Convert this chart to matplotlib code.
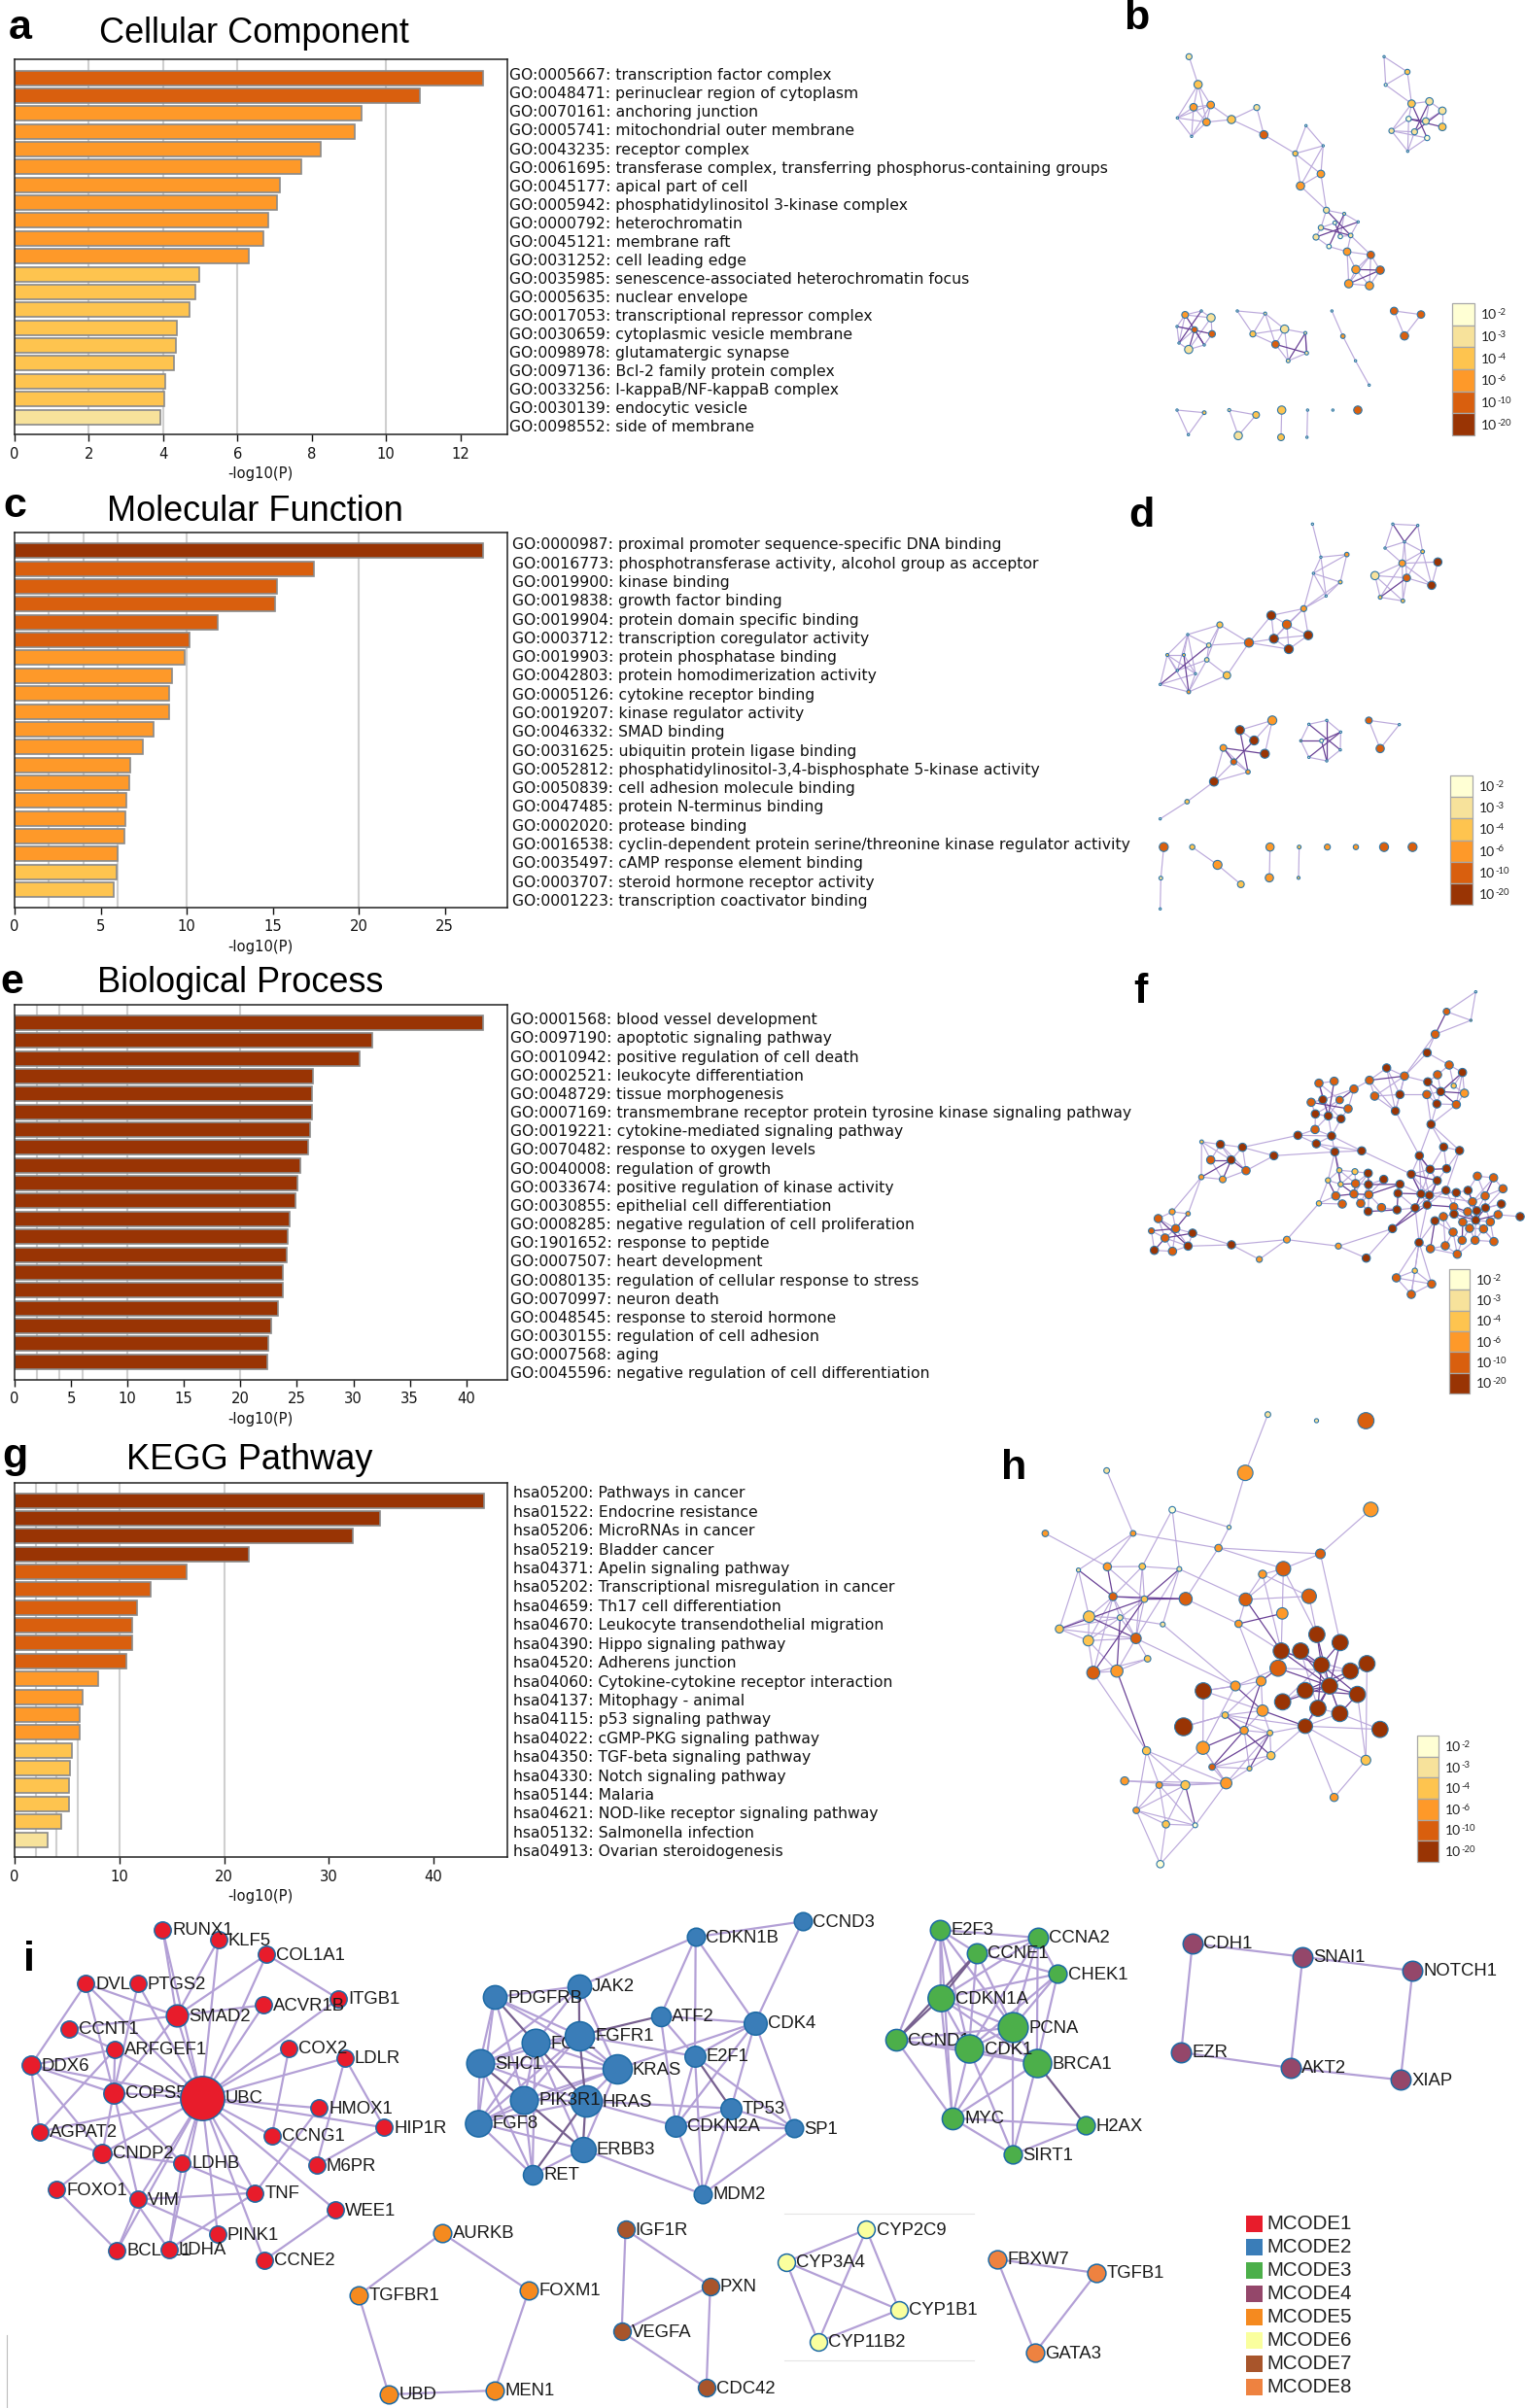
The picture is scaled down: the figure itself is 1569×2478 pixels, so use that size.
import matplotlib
matplotlib.use('Agg')
import matplotlib.pyplot as plt
from matplotlib.collections import LineCollection
from matplotlib.patches import Rectangle

W, H, DPI = 1569, 2478, 100
SANS = 'Liberation Sans'
LEVEL = {2: '#FFFFD4', 3: '#F7E29B', 4: '#FEC44F', 6: '#FE9929', 10: '#D95F0E', 20: '#993404'}
BAR_EDGE = '#8A8A8A'
NODE_EDGE = '#2F77A8'
EDGE_LIGHT = '#BBA9DB'
EDGE_DARK = '#6A4296'
GRID_VALUES = [2, 4, 6, 10, 20]

# ---------------------------- bar panels -----------------------------
cc_values = [12.62, 10.9, 9.33, 9.16, 8.23, 7.71, 7.15, 7.06, 6.83, 6.71, 6.31, 4.97, 4.86, 4.71, 4.36, 4.34, 4.29, 4.05, 4.04, 3.93]
cc_levels = [10, 10, 6, 6, 6, 6, 6, 6, 6, 6, 6, 4, 4, 4, 4, 4, 4, 4, 4, 3]
cc_labels = ['GO:0005667: transcription factor complex', 'GO:0048471: perinuclear region of cytoplasm',
             'GO:0070161: anchoring junction', 'GO:0005741: mitochondrial outer membrane', 'GO:0043235: receptor complex',
             'GO:0061695: transferase complex, transferring phosphorus-containing groups', 'GO:0045177: apical part of cell',
             'GO:0005942: phosphatidylinositol 3-kinase complex', 'GO:0000792: heterochromatin', 'GO:0045121: membrane raft',
             'GO:0031252: cell leading edge', 'GO:0035985: senescence-associated heterochromatin focus',
             'GO:0005635: nuclear envelope', 'GO:0017053: transcriptional repressor complex',
             'GO:0030659: cytoplasmic vesicle membrane', 'GO:0098978: glutamatergic synapse',
             'GO:0097136: Bcl-2 family protein complex', 'GO:0033256: I-kappaB/NF-kappaB complex',
             'GO:0030139: endocytic vesicle', 'GO:0098552: side of membrane']
cc_ticks = [0, 2, 4, 6, 8, 10, 12]

mf_values = [27.2, 17.4, 15.25, 15.15, 11.8, 10.15, 9.9, 9.17, 9.0, 8.95, 8.05, 7.45, 6.7, 6.65, 6.47, 6.45, 6.4, 6.0, 5.95, 5.75]
mf_levels = [20, 10, 10, 10, 10, 10, 6, 6, 6, 6, 6, 6, 6, 6, 6, 6, 6, 6, 4, 4]
mf_labels = ['GO:0000987: proximal promoter sequence-specific DNA binding', 'GO:0016773: phosphotransferase activity, alcohol group as acceptor',
             'GO:0019900: kinase binding', 'GO:0019838: growth factor binding', 'GO:0019904: protein domain specific binding',
             'GO:0003712: transcription coregulator activity', 'GO:0019903: protein phosphatase binding',
             'GO:0042803: protein homodimerization activity', 'GO:0005126: cytokine receptor binding',
             'GO:0019207: kinase regulator activity', 'GO:0046332: SMAD binding', 'GO:0031625: ubiquitin protein ligase binding',
             'GO:0052812: phosphatidylinositol-3,4-bisphosphate 5-kinase activity', 'GO:0050839: cell adhesion molecule binding',
             'GO:0047485: protein N-terminus binding', 'GO:0002020: protease binding',
             'GO:0016538: cyclin-dependent protein serine/threonine kinase regulator activity', 'GO:0035497: cAMP response element binding',
             'GO:0003707: steroid hormone receptor activity', 'GO:0001223: transcription coactivator binding']
mf_ticks = [0, 5, 10, 15, 20, 25]

bp_values = [41.5, 31.7, 30.6, 26.4, 26.35, 26.3, 26.2, 26.0, 25.3, 25.05, 24.85, 24.4, 24.15, 24.1, 23.8, 23.8, 23.35, 22.75, 22.45, 22.35]
bp_levels = [20] * 20
bp_labels = ['GO:0001568: blood vessel development', 'GO:0097190: apoptotic signaling pathway',
             'GO:0010942: positive regulation of cell death', 'GO:0002521: leukocyte differentiation', 'GO:0048729: tissue morphogenesis',
             'GO:0007169: transmembrane receptor protein tyrosine kinase signaling pathway', 'GO:0019221: cytokine-mediated signaling pathway',
             'GO:0070482: response to oxygen levels', 'GO:0040008: regulation of growth', 'GO:0033674: positive regulation of kinase activity',
             'GO:0030855: epithelial cell differentiation', 'GO:0008285: negative regulation of cell proliferation',
             'GO:1901652: response to peptide', 'GO:0007507: heart development', 'GO:0080135: regulation of cellular response to stress',
             'GO:0070997: neuron death', 'GO:0048545: response to steroid hormone', 'GO:0030155: regulation of cell adhesion',
             'GO:0007568: aging', 'GO:0045596: negative regulation of cell differentiation']
bp_ticks = [0, 5, 10, 15, 20, 25, 30, 35, 40]

kegg_values = [44.8, 34.9, 32.3, 22.4, 16.45, 12.95, 11.7, 11.25, 11.2, 10.65, 7.95, 6.45, 6.25, 6.2, 5.5, 5.3, 5.2, 5.2, 4.5, 3.15]
kegg_levels = [20, 20, 20, 20, 10, 10, 10, 10, 10, 10, 6, 6, 6, 6, 4, 4, 4, 4, 4, 3]
kegg_labels = ['hsa05200: Pathways in cancer', 'hsa01522: Endocrine resistance', 'hsa05206: MicroRNAs in cancer', 'hsa05219: Bladder cancer',
               'hsa04371: Apelin signaling pathway', 'hsa05202: Transcriptional misregulation in cancer', 'hsa04659: Th17 cell differentiation',
               'hsa04670: Leukocyte transendothelial migration', 'hsa04390: Hippo signaling pathway', 'hsa04520: Adherens junction',
               'hsa04060: Cytokine-cytokine receptor interaction', 'hsa04137: Mitophagy - animal', 'hsa04115: p53 signaling pathway',
               'hsa04022: cGMP-PKG signaling pathway', 'hsa04350: TGF-beta signaling pathway', 'hsa04330: Notch signaling pathway',
               'hsa05144: Malaria', 'hsa04621: NOD-like receptor signaling pathway', 'hsa05132: Salmonella infection', 'hsa04913: Ovarian steroidogenesis']
kegg_ticks = [0, 10, 20, 30, 40]

# ------------------- enrichment networks: (x, y, radius, level) -------
net_b = [(280,175,8,3),(308,261,11,4),(294,331,10,6),(347,324,10,6),(334,377,10,6),(244,364,3,2),(288,421,3,2),(411,369,11,4),(489,332,8,3),(511,416,11,10),
         (641,388,3,2),(694,450,3,2),(608,474,7,4),(687,537,10,6),(624,574,11,6),(704,649,8,3),(759,660,4,3),(802,685,3,2),(730,688,5,2),(687,703,7,3),
         (779,727,6,3),(747,730,6,2),(672,732,8,3),(712,761,6,2),(768,777,10,6),(841,787,10,10),(795,832,11,6),(870,834,11,10),(773,876,11,6),(837,882,11,6),
         (882,175,3,2),(954,222,7,4),(887,262,4,2),(967,320,10,4),(1022,313,10,3),(1062,342,10,3),(958,367,7,2),(1011,374,9,3),(1062,392,10,4),(905,404,7,3),
         (976,407,8,3),(1015,426,7,2),(955,467,3,2),(268,972,9,6),(318,960,3,2),(348,981,11,3),(243,1008,3,2),(297,1018,8,10),(351,1031,9,10),(249,1059,3,2),
         (327,1065,3,2),(279,1079,11,3),(429,960,3,2),(515,968,4,3),(477,1031,8,4),(575,1016,11,3),(639,1028,4,3),(547,1063,10,10),(643,1090,5,3),(586,1114,5,3),
         (721,960,3,2),(755,1038,6,6),(794,1114,3,2),(836,1189,3,2),(913,960,10,10),(996,971,10,10),(945,1037,11,10),(243,1266,3,2),(327,1274,5,4),(278,1342,3,2),
         (404,1266,4,3),(487,1281,9,4),(432,1345,11,3),(566,1266,11,4),(564,1350,9,4),(646,1266,3,2),(644,1350,3,2),(724,1266,3,2),(801,1266,11,10)]
edges_b_light = ("0-1 1-2 1-3 1-4 2-3 2-4 3-4 2-5 3-5 4-5 2-6 3-6 4-6 5-6 1-5 4-7 3-7 7-8 7-9 8-9 9-12 12-10 12-11 10-11 12-13 12-14 13-14 11-13 11-14 14-15 13-15 "
                 "15-16 16-17 17-20 20-24 22-23 23-24 19-22 15-19 18-19 16-21 20-21 24-25 24-26 24-28 25-26 25-28 26-28 26-29 27-29 28-29 25-29 20-25 25-27 "
                 "30-31 30-32 31-32 31-33 32-33 33-34 33-36 33-39 34-35 35-38 37-35 39-40 39-41 39-42 40-42 41-42 36-42 34-37 36-39 "
                 "43-44 43-45 43-46 44-45 45-48 45-51 46-49 46-47 47-49 48-50 49-51 50-51 43-49 "
                 "52-53 52-54 53-54 53-55 53-57 54-55 54-57 55-56 55-57 55-59 56-58 57-59 58-59 "
                 "60-61 61-62 62-63 64-65 64-66 65-66 67-68 67-69 68-69 70-71 70-72 71-72 73-74 75-76")
edges_b_dark = "16-23 15-20 19-20 22-17 18-21 27-28 26-27 33-41 36-38 40-34 40-35 36-37 43-50 44-49 46-48 47-50 47-51 56-59 57-58 56-58"

net_d = [(661,118,3,2),(687,220,3,2),(767,212,6,6),(664,270,3,2),(747,297,5,4),(703,340,3,2),(634,379,8,6),(534,400,12,20),(582,428,12,10),(542,472,12,20),
         (648,461,12,20),(588,504,12,20),(465,484,12,10),(375,429,8,4),(276,459,3,2),(341,492,6,3),(213,522,4,4),(264,522,4,4),(335,537,6,3),(244,570,3,2),
         (300,580,3,2),(397,585,10,4),(191,613,3,2),(279,636,5,6),(909,118,3,2),(986,122,3,2),(945,173,3,2),(885,192,3,2),(1001,203,5,4),(938,239,9,6),
         (1048,235,11,20),(854,277,11,3),(952,284,10,10),(1029,307,11,20),(870,344,5,4),(940,355,5,4),(537,724,12,6),(437,754,12,20),(481,786,12,20),(386,809,9,6),
         (514,827,12,20),(418,852,8,10),(462,883,6,6),(357,913,12,20),(274,975,6,4),(191,1028,3,2),(650,736,3,2),(705,724,3,2),(748,760,3,2),(625,787,3,6),
         (689,787,5,2),(747,815,3,2),(650,838,3,2),(705,849,3,2),(835,724,9,10),(929,737,3,2),(870,811,11,10),(202,1115,12,10),(193,1211,5,3),(191,1306,3,2),
         (290,1115,7,4),(368,1170,12,6),(440,1230,9,4),(530,1115,11,6),(528,1210,11,6),(620,1115,5,4),(618,1210,4,4),(707,1115,8,6),(795,1115,7,6),(882,1115,12,10),(970,1115,12,10)]
edges_d_light = ("0-1 1-2 1-3 1-5 2-3 2-4 3-4 3-5 4-5 3-6 4-6 5-6 6-7 6-8 6-9 6-10 7-8 7-9 8-9 8-10 8-11 9-10 9-11 10-11 7-12 9-12 11-12 12-13 12-15 12-21 13-15 13-14 13-18 "
                 "14-15 14-16 14-17 14-19 14-20 15-18 16-17 16-19 16-20 16-22 16-23 17-20 18-19 18-21 18-23 20-22 20-23 22-23 23-21 "
                 "24-25 24-27 25-28 26-27 26-28 26-29 26-32 27-29 28-29 28-32 28-33 29-30 29-31 29-33 29-34 29-35 30-33 31-32 31-34 31-35 32-33 32-35 34-35 "
                 "36-37 36-38 36-40 37-38 39-42 39-43 41-42 41-43 42-43 43-44 44-45 "
                 "46-47 47-48 48-51 51-53 53-52 52-49 49-46 54-55 54-56 55-56 57-58 58-59 60-61 61-62 63-64 65-66")
edges_d_dark = "24-26 25-26 15-22 17-23 37-42 38-41 39-40 39-41 32-34 46-51 47-53 48-52 49-50 50-48 50-53"

net_f = [(1165,62,3,2),(1075,123,9,10),(1150,150,3,4),(1040,193,11,10),(1015,250,11,20),(1083,288,11,10),(1124,311,11,20),(1047,318,11,10),(1017,340,11,20),(1097,352,7,4),
         (1057,370,11,20),(1130,375,11,6),(1014,379,11,10),(1045,408,11,20),(1105,410,11,10),(1027,471,11,20),(890,297,11,20),(945,322,11,10),(837,335,11,10),(853,384,11,10),
         (931,379,11,20),(917,430,11,20),(681,344,11,10),(728,338,11,10),(789,362,11,10),(657,403,11,10),(693,395,11,20),(745,396,10,10),(771,423,11,10),(670,439,11,20),
         (710,445,11,20),(749,454,11,20),(669,487,11,10),(616,505,11,20),(720,507,11,20),(673,531,11,20),(730,556,11,20),(813,553,11,20),(542,568,11,20),(319,525,5,4),
         (377,533,11,20),(445,542,11,20),(347,581,11,10),(410,581,11,20),(456,614,11,10),(318,634,7,6),(384,641,9,6),(228,741,8,6),(277,747,6,6),(185,762,11,10),
         (164,800,8,10),(239,793,11,10),(291,807,11,20),(206,822,11,10),(277,847,11,20),(173,860,11,20),(229,863,11,10),(411,843,11,20),(497,888,8,6),(582,827,9,6),
         (741,847,8,6),(827,884,11,20),(908,793,11,20),(744,613,7,4),(792,617,8,4),(709,644,7,4),(748,656,7,4),(681,715,7,4),(833,622,11,20),(881,641,11,20),
         (794,654,11,10),(834,657,11,20),(931,656,11,20),(733,692,11,10),(789,686,11,10),(835,688,11,10),(925,684,11,20),(753,717,11,10),(810,715,11,10),(874,728,11,10),
         (833,740,11,20),(922,735,11,20),(991,568,11,20),(1066,541,11,20),(1115,552,11,20),(1024,610,11,20),(1075,608,11,20),(966,625,11,20),(1046,645,11,20),(996,686,11,20),
         (1022,690,11,20),(978,729,11,20),(1015,720,11,20),(1170,631,11,10),(1220,636,11,10),(1249,670,11,10),(1073,675,11,20),(1105,682,11,20),(1141,675,11,20),(1194,692,11,10),
         (1155,710,11,10),(1244,717,11,20),(1097,726,11,10),(1195,729,11,20),(1140,741,11,10),(1168,738,11,20),(1098,748,11,20),(1065,756,11,10),(1234,750,11,10),(1039,769,11,20),
         (1125,773,11,10),(1165,767,11,20),(1210,772,11,10),(1302,756,11,20),(1146,792,11,10),(1189,794,11,10),(1095,804,11,10),(1123,829,11,10),(1163,829,11,10),(1221,833,11,10),
         (1025,855,11,10),(1071,846,11,10),(1108,872,11,10),(990,836,11,20),(977,923,7,4),(920,945,11,10),(1029,964,11,10),(966,996,11,10)]
edges_f_light = ("0-1 0-2 1-2 2-3 3-4 3-17 4-5 4-17 5-6 5-7 5-9 6-9 6-11 6-14 7-8 7-10 8-13 10-12 10-13 11-14 12-13 13-14 13-15 14-15 9-11 15-12 15-82 15-84 15-83 "
                 "16-18 16-20 16-17 17-19 17-20 18-19 18-21 19-20 19-21 20-21 20-12 17-21 16-21 21-82 17-8 "
                 "22-23 22-26 22-27 24-26 24-28 25-26 25-29 26-31 26-30 27-29 27-30 28-31 29-30 29-31 29-32 30-32 30-34 31-34 32-33 32-34 33-34 33-35 34-35 34-36 35-36 24-18 33-41 34-37 35-37 36-37 36-38 38-44 38-41 "
                 "39-40 39-42 39-45 40-41 40-42 40-43 40-44 41-43 41-44 42-46 44-46 45-46 39-43 45-47 45-48 47-48 47-49 47-51 49-51 49-53 50-53 50-55 51-52 51-53 51-54 51-56 52-54 53-54 53-56 54-56 55-56 52-57 54-57 57-59 57-58 58-59 59-60 59-67 60-61 60-62 61-62 "
                 "67-65 67-73 67-77 36-63 36-65 63-64 63-65 63-66 63-70 64-66 64-68 64-70 65-66 66-73 68-70 68-74 69-71 69-75 70-71 71-75 71-78 72-76 73-77 74-78 75-78 75-79 75-80 72-89 79-81 78-80 74-80 81-91 76-91 37-87 "
                 "82-87 82-88 82-89 82-90 83-84 83-86 83-85 84-86 84-96 85-87 85-88 85-89 86-88 87-90 87-92 88-89 88-90 89-90 89-92 90-91 90-92 91-92 90-96 92-96 89-97 90-100 123-92 123-91 "
                 "93-94 93-98 93-99 94-95 94-100 95-99 95-103 96-97 96-102 97-98 97-105 97-102 98-105 99-100 99-105 99-103 100-104 100-111 101-103 101-105 101-108 102-106 102-111 103-105 103-112 104-105 104-110 106-107 106-110 107-109 107-116 108-112 108-113 109-116 109-123 110-111 110-114 111-112 111-114 111-115 111-118 111-119 112-115 112-119 114-115 114-118 114-117 115-118 115-119 116-117 116-122 116-121 117-122 118-122 118-119 120-121 120-122 121-122 121-107 "
                 "123-124 123-125 123-126 123-127 124-125 124-126 124-127 125-126 125-127 126-127 123-120")
edges_f_dark = ("1-3 6-10 8-10 10-11 10-14 17-18 23-30 22-30 24-27 25-28 42-43 43-44 43-46 45-43 48-51 49-54 50-51 52-53 53-55 62-91 62-92 65-73 66-70 66-74 68-71 70-74 71-72 72-75 73-74 74-75 76-81 76-89 80-81 36-66 "
                "82-85 85-86 87-88 87-89 88-92 89-91 92-102 94-99 98-100 100-105 102-104 103-111 104-111 105-111 106-111 108-111 110-117 109-120")

net_h = [(839,77,7,3),(977,96,5,3),(1117,96,20,10),(382,250,7,3),(775,257,19,6),(1131,370,18,6),(568,371,8,2),(729,425,5,3),(208,444,8,6),(457,444,7,6),
         (699,489,9,6),(988,507,12,10),(883,553,18,10),(824,570,10,6),(302,557,5,3),(384,547,10,6),(483,546,8,4),(588,554,6,3),(400,639,10,10),(489,647,8,4),
         (606,646,16,10),(776,648,16,10),(956,638,18,10),(880,691,14,6),(756,723,9,6),(332,701,14,4),(420,704,7,3),(248,739,10,4),(541,725,6,3),(330,775,13,4),
         (465,768,13,10),(498,831,8,4),(344,874,16,10),(411,869,15,6),(978,756,20,20),(1044,781,20,20),(877,807,20,20),(932,807,20,20),(991,850,20,20),(1120,846,20,20),
         (868,860,20,10),(1073,869,20,20),(656,930,20,20),(747,915,12,6),(820,900,12,6),(945,929,20,20),(1014,915,20,20),(1093,941,20,20),(881,964,20,20),(824,991,14,6),
         (981,984,20,20),(1043,1000,20,20),(718,1005,8,4),(600,1041,22,20),(945,1039,18,20),(1157,1049,20,20),(772,1052,10,6),(845,1060,7,4),(655,1106,16,6),(848,1130,10,4),
         (1117,1144,12,4),(681,1165,8,10),(787,1170,6,4),(495,1115,10,4),(721,1215,14,6),(433,1208,10,6),(531,1221,8,6),(605,1221,11,4),(1027,1259,10,6),(466,1299,8,6),
         (550,1342,9,4),(633,1345,6,2),(534,1465,9,2)]
edges_h_light = ("0-4 4-7 7-6 7-10 3-9 9-14 9-10 9-15 6-16 6-17 8-15 10-11 10-20 10-12 11-12 11-5 11-35 12-13 12-21 12-23 12-34 13-21 13-22 13-36 21-22 21-24 21-17 23-36 24-36 24-44 22-34 "
                 "14-25 14-27 15-16 15-19 16-17 16-18 16-19 16-30 17-28 17-30 18-19 18-25 18-26 18-29 18-30 19-26 19-30 25-26 25-27 25-29 26-27 26-28 26-29 26-30 27-29 27-30 29-30 29-32 29-33 30-31 30-33 31-33 31-32 32-33 32-18 20-24 28-43 30-43 "
                 "32-63 63-66 63-67 63-64 63-69 65-67 65-64 66-67 66-69 66-64 66-70 66-71 67-64 67-69 67-70 69-70 69-71 69-72 70-71 70-72 71-72 64-71 64-58 66-58 "
                 "36-41 40-41 37-50 39-41 50-51 54-50 54-51 54-55 51-55 39-60 47-60 54-68 60-68 54-60 38-51 38-48 48-45 "
                 "43-42 43-44 43-40 44-49 44-52 49-52 49-56 49-57 52-56 52-57 52-54 52-53 53-52 56-57 56-62 57-59 57-64 57-54 59-62 59-61 59-54 62-61 58-42 58-43 42-43 42-49 58-64 61-64 62-64")
edges_h_dark = ("14-18 15-18 17-19 18-20 19-20 19-32 25-30 27-19 33-26 33-63 67-71 21-36 23-24 "
                "34-46 34-38 35-38 35-46 36-38 36-46 37-38 37-46 40-46 38-50 41-45 45-46 45-47 46-47 46-51 46-48 47-51 47-38 50-46 39-46 54-46 "
                "43-49 44-56 49-54 52-59 56-61 57-61 57-62 58-56 40-44")

# ------------------- protein modules: (name, x, y, radius) ------------
mcode1_nodes = [('KLF5',674,109,26),('RUNX1',502,77,26),('COL1A1',823,154,26),('DVL',265,244,26),('PTGS2',426,244,26),('ITGB1',1045,291,26),('ACVR1B',814,310,26),
                ('SMAD2',545,343,34),('CCNT1',212,383,26),('ARFGEF1',355,447,26),('LDLR',1065,474,26),('COX2',892,444,26),('DDX6',95,496,29),('COPS5',351,581,32),
                ('HMOX1',985,628,26),('HIP1R',1186,688,26),('AGPAT2',122,701,26),('CCNG1',839,713,26),('CNDP2',316,768,29),('LDHB',562,798,26),('M6PR',977,805,26),
                ('TNF',787,890,26),('FOXO1',175,880,26),('VIM',427,910,26),('WEE1',1036,943,26),('PINK1',672,1018,26),('BCL2L1',361,1068,26),('LDHA',521,1065,26),
                ('CCNE2',815,1098,26),('UBC',623,597,68)]
mcode1_edges = ("UBC-RUNX1 UBC-KLF5 UBC-COL1A1 UBC-DVL UBC-PTGS2 UBC-ITGB1 UBC-ACVR1B UBC-COX2 UBC-LDLR UBC-DDX6 UBC-COPS5 UBC-HMOX1 UBC-HIP1R UBC-AGPAT2 UBC-CCNG1 UBC-CNDP2 UBC-LDHB UBC-TNF "
                "UBC-VIM UBC-WEE1 UBC-PINK1 UBC-LDHA UBC-CCNE2 UBC-BCL2L1 UBC-ARFGEF1 UBC-SMAD2 RUNX1-SMAD2 KLF5-SMAD2 COL1A1-SMAD2 COL1A1-ITGB1 DVL-SMAD2 DVL-DDX6 DVL-COPS5 PTGS2-COPS5 SMAD2-ACVR1B "
                "SMAD2-CCNT1 SMAD2-COPS5 CCNT1-ARFGEF1 ARFGEF1-DDX6 ARFGEF1-COPS5 ARFGEF1-AGPAT2 DDX6-COPS5 DDX6-AGPAT2 DDX6-CNDP2 COPS5-CNDP2 COPS5-VIM COPS5-LDHB AGPAT2-CNDP2 CNDP2-LDHB CNDP2-FOXO1 "
                "CNDP2-LDHA FOXO1-BCL2L1 VIM-BCL2L1 VIM-TNF VIM-PINK1 LDHB-TNF LDHB-LDHA TNF-LDHA TNF-HMOX1 COX2-CCNG1 LDLR-HIP1R LDLR-M6PR HIP1R-M6PR CCNG1-M6PR WEE1-CCNE2")
mcode2_nodes = [('CCND3',1024,52,26),('CDKN1B',716,100,26),('JAK2',380,252,34),('PDGFRB',137,286,34),('ATF2',615,344,28),('CDK4',887,365,33),('FGF2',254,427,40),('FGFR1',381,404,42),
                ('E2F1',714,468,30),('SHC1',94,490,40),('KRAS',489,508,42),('HRAS',399,607,45),('PIK3R1',222,602,40),('TP53',818,629,30),('CDKN2A',659,683,30),('SP1',999,691,26),
                ('FGF8',89,674,38),('ERBB3',391,755,36),('RET',246,834,28),('MDM2',736,894,26)]
mcode2_edges = ("CCND3-CDKN1B CCND3-CDK4 CDKN1B-JAK2 CDKN1B-ATF2 CDKN1B-E2F1 CDKN1B-CDK4 JAK2-PDGFRB JAK2-FGF2 JAK2-KRAS JAK2-SHC1 PDGFRB-SHC1 PDGFRB-FGFR1 PDGFRB-KRAS PDGFRB-FGF8 PDGFRB-PIK3R1 "
                "FGFR1-E2F1 FGFR1-KRAS FGFR1-SHC1 FGFR1-PIK3R1 FGFR1-FGF2 FGFR1-FGF8 FGF2-SHC1 FGF2-KRAS FGF2-PIK3R1 FGF2-FGF8 FGF2-RET FGF2-ERBB3 SHC1-KRAS SHC1-HRAS SHC1-FGF8 SHC1-RET KRAS-PIK3R1 KRAS-HRAS "
                "KRAS-FGF8 KRAS-ERBB3 KRAS-CDK4 PIK3R1-HRAS PIK3R1-FGF8 PIK3R1-RET HRAS-TP53 HRAS-CDKN2A HRAS-FGF8 FGF8-ERBB3 FGF8-RET ERBB3-RET ERBB3-MDM2 ATF2-CDK4 ATF2-E2F1 ATF2-CDKN2A CDK4-E2F1 CDK4-TP53 "
                "CDK4-SP1 CDK4-CDKN2A E2F1-CDKN2A E2F1-SP1 E2F1-MDM2 TP53-CDKN2A TP53-SP1 TP53-MDM2 CDKN2A-SP1 CDKN2A-MDM2 SP1-MDM2")
mcode2_strong = "JAK2-FGFR1 PDGFRB-FGF2 FGFR1-ATF2 FGFR1-HRAS FGF2-HRAS SHC1-PIK3R1 PIK3R1-ERBB3 HRAS-ERBB3 HRAS-RET E2F1-TP53"
mcode3_nodes = [('E2F3',158,78,24),('CCNA2',393,102,24),('CCNE1',246,149,24),('CHEK1',441,214,22),('CDKN1A',159,289,32),('BRCA1',391,490,34),('CCND1',52,418,26),('CDK1',227,445,34),
                ('PCNA',333,379,36),('MYC',187,659,26),('H2AX',509,682,22),('SIRT1',333,772,22)]
mcode3_edges = ("E2F3-CCNA2 E2F3-CCNE1 E2F3-CDKN1A E2F3-CCND1 E2F3-CDK1 E2F3-PCNA E2F3-MYC CCNA2-CCNE1 CCNA2-CDKN1A CCNA2-CHEK1 CCNA2-PCNA CCNA2-CDK1 CCNA2-BRCA1 CCNE1-CHEK1 CCNE1-PCNA CCNE1-CDK1 "
                "CHEK1-CDKN1A CHEK1-PCNA CHEK1-CDK1 CHEK1-BRCA1 CDKN1A-PCNA CDKN1A-CDK1 CDKN1A-BRCA1 CDKN1A-MYC PCNA-CCND1 PCNA-CDK1 PCNA-BRCA1 PCNA-MYC PCNA-SIRT1 CCND1-CDK1 CCND1-BRCA1 CCND1-MYC "
                "CDK1-BRCA1 CDK1-MYC CDK1-SIRT1 BRCA1-MYC BRCA1-SIRT1 MYC-H2AX MYC-SIRT1 H2AX-SIRT1")
mcode3_strong = "CCNE1-CDKN1A CCNE1-CCND1 CDKN1A-CCND1 BRCA1-H2AX"
mcode4_nodes = [('CDH1',766,120,24),('SNAI1',1032,161,24),('NOTCH1',1297,204,24),('EZR',739,456,24),('AKT2',1003,504,24),('XIAP',1268,541,24)]
mcode4_edges = "CDH1-SNAI1 SNAI1-NOTCH1 CDH1-EZR SNAI1-AKT2 NOTCH1-XIAP EZR-AKT2 AKT2-XIAP"
mcode5_nodes = [('AURKB',455,2298,9.3),('TGFBR1',369,2362,9.3),('UBD',400,2464,9.3),('FOXM1',544,2357,9.3),('MEN1',509,2460,9.3)]
mcode5_edges = "AURKB-TGFBR1 TGFBR1-UBD UBD-MEN1 AURKB-FOXM1 FOXM1-MEN1"
mcode6_nodes = [('CYP2C9',1208,1003,25),('CYP3A4',977,1103,25),('CYP1B1',1302,1251,25),('CYP11B2',1069,1350,25)]
mcode6_edges = "CYP2C9-CYP3A4 CYP2C9-CYP1B1 CYP2C9-CYP11B2 CYP3A4-CYP1B1 CYP3A4-CYP11B2 CYP1B1-CYP11B2"
mcode7_nodes = [('IGF1R',514,1003,25),('PXN',758,1178,25),('VEGFA',503,1318,25),('CDC42',747,1492,25)]
mcode7_edges = "IGF1R-PXN IGF1R-VEGFA PXN-VEGFA PXN-CDC42 VEGFA-CDC42"
mcode8_nodes = [('FBXW7',295,1095,22),('TGFB1',535,1137,22),('GATA3',386,1384,22)]
mcode8_edges = "FBXW7-TGFB1 FBXW7-GATA3 TGFB1-GATA3"
mcode_names = ['MCODE1', 'MCODE2', 'MCODE3', 'MCODE4', 'MCODE5', 'MCODE6', 'MCODE7', 'MCODE8']
mcode_colors = ['#E81C2B', '#3A7DB8', '#4CAF4A', '#94476A', '#F58A1F', '#FAFF9E', '#A8552B', '#EE8240']
colorbar_levels = [2, 3, 4, 6, 10, 20]

# ------------------------------ drawing ------------------------------
fig = plt.figure(figsize=(W / DPI, H / DPI), dpi=DPI, facecolor='white')
pix = fig.add_axes([0, 0, 1, 1], zorder=5)
pix.set_xlim(0, W)
pix.set_ylim(H, 0)
pix.axis('off')
pix.patch.set_alpha(0)


def bar_panel(values, levels, labels, ticks, xmax, top, bottom, first, last, lab_x, lab_first, lab_last):
    ax = fig.add_axes([15 / W, 1 - bottom / H, (521.5 - 15) / W, (bottom - top) / H])
    n = len(values)
    step = (last - first) / (n - 1)
    ax.set_ylim((bottom - first) / step, (top - first) / step)
    ax.set_xlim(0, xmax)
    for g in GRID_VALUES:
        if g < xmax:
            ax.axvline(g, color='#CFCFCF', lw=1.5, zorder=0)
    ax.barh(range(n), values, height=15 / step, color=[LEVEL[l] for l in levels], edgecolor=BAR_EDGE, linewidth=1.2, zorder=2)
    ax.set_yticks([])
    ax.set_xticks(ticks)
    ax.tick_params(axis='x', length=5, width=1, labelsize=10.6, pad=4, colors='#111111')
    ax.set_xlabel('-log10(P)', fontsize=10.6, labelpad=4, color='#111111')
    for s in ax.spines.values():
        s.set_linewidth(1.1)
        s.set_color('#222222')
    ls = (lab_last - lab_first) / (n - 1)
    for i, t in enumerate(labels):
        pix.text(lab_x, lab_first + i * ls + 0.8, t, fontsize=11.26, ha='left', va='center', color='#111111')


bar_panel(cc_values, cc_levels, cc_labels, cc_ticks, 13.25, 61, 447, 80, 429, 524.5, 77, 439)
bar_panel(mf_values, mf_levels, mf_labels, mf_ticks, 28.6, 548, 934, 566.7, 915.7, 527, 560, 926.7)
bar_panel(bp_values, bp_levels, bp_labels, bp_ticks, 43.6, 1033.7, 1420, 1052.3, 1401.3, 525, 1049, 1413)
bar_panel(kegg_values, kegg_levels, kegg_labels, kegg_ticks, 47.0, 1526, 1911.3, 1544, 1893, 527.5, 1536, 1905)

for txt, x, y in [('Cellular Component', 102, 44), ('Molecular Function', 110, 536), ('Biological Process', 100, 1021), ('KEGG Pathway', 130, 1512)]:
    pix.text(x, y, txt, fontsize=26, family=SANS, ha='left', va='baseline', color='black')
for txt, x, y in [('a', 9, 40), ('b', 1156, 30), ('c', 3, 532), ('d', 1161, 542), ('e', 0, 1022), ('f', 1166, 1032), ('g', 2, 1510), ('h', 1030, 1522), ('i', 24, 2028)]:
    pix.text(x, y, txt, fontsize=31, family=SANS, weight='bold', ha='left', va='baseline', color='black')


def pairs(spec):
    return [tuple(p.split('-')) for p in spec.split()]


def network(nodes, light, dark, ox, oy, sx, sy):
    xy = [(ox + n[0] / sx, oy + n[1] / sy) for n in nodes]
    lseg = [(xy[int(a)], xy[int(b)]) for a, b in pairs(light)]
    dseg = [(xy[int(a)], xy[int(b)]) for a, b in pairs(dark)]
    pix.add_collection(LineCollection(lseg, colors=EDGE_LIGHT, linewidths=0.85, zorder=1))
    pix.add_collection(LineCollection(dseg, colors=EDGE_DARK, linewidths=0.9, zorder=1.1))
    pix.scatter([p[0] for p in xy], [p[1] for p in xy], s=[(2 * 1.15 * n[2] / sx * 0.72) ** 2 for n in nodes],
                c=[LEVEL[n[3]] for n in nodes], edgecolors=NODE_EDGE, linewidths=0.8, zorder=2)


network(net_b, edges_b_light, edges_b_dark, 1130, 0, 3, 3)
network(net_d, edges_d_light, edges_d_dark, 1130, 500, 3, 3)
network(net_f, edges_f_light, edges_f_dark, 1130, 1000, 3, 3)
network(net_h, edges_h_light, edges_h_dark, 1000, 1430, 2.756, 3)


def colorbar(x0, x1, y0, y1, lab_x):
    step = (y1 - y0) / len(colorbar_levels)
    for i, lev in enumerate(colorbar_levels):
        pix.add_patch(Rectangle((x0, y0 + i * step), x1 - x0, step, facecolor=LEVEL[lev], edgecolor='#A8A8A8', linewidth=0.9, zorder=3))
        t = pix.text(lab_x, y0 + (i + 0.5) * step + 1, '10', fontsize=10, family='Lato', ha='left', va='center', color='#222222')
        pix.annotate('-%d' % lev, xy=(1, 0.72), xycoords=t, fontsize=6.8, family='Lato', ha='left', va='center', color='#222222')


colorbar(1494, 1517, 312, 448, 1524)
colorbar(1492, 1515, 798, 931, 1522)
colorbar(1491, 1512, 1306, 1434, 1519)
colorbar(1458, 1480, 1786, 1916, 1487)


def module(nodes, light, strong, color, ox, oy, sx, sy):
    pos = {n[0]: (ox + n[1] / sx, oy + n[2] / sy) for n in nodes}
    seg = [(pos[a], pos[b]) for a, b in pairs(light)]
    pix.add_collection(LineCollection(seg, colors='#B3A0D6', linewidths=1.6, zorder=1))
    if strong:
        seg = [(pos[a], pos[b]) for a, b in pairs(strong)]
        pix.add_collection(LineCollection(seg, colors='#77608F', linewidths=1.6, zorder=1.1))
    for i, (name, x, y, r) in enumerate(nodes):
        rp = r / sx
        px, py = pos[name]
        z = 2 + i * 0.02
        pix.scatter([px], [py], s=(2 * rp * 0.72) ** 2, c=color, edgecolors='#1C6AA5', linewidths=1.1, zorder=z)
        pix.text(px + rp + 1.2, py + 0.8, name, fontsize=13.3, family=SANS, ha='left', va='center', color='#1A1A1A', zorder=z + 0.01)


module(mcode1_nodes, mcode1_edges, '', mcode_colors[0], 0, 1960, 3, 3)
module(mcode2_nodes, mcode2_edges, mcode2_strong, mcode_colors[1], 460, 1960, 2.8, 3)
module(mcode3_nodes, mcode3_edges, mcode3_strong, mcode_colors[2], 900, 1960, 2.344, 3)
module(mcode4_nodes, mcode4_edges, '', mcode_colors[3], 900, 1960, 2.344, 3)
module(mcode5_nodes, mcode5_edges, '', mcode_colors[4], 0, 0, 1, 1)
module(mcode6_nodes, mcode6_edges, '', mcode_colors[5], 460, 1960, 2.8, 3)
module(mcode7_nodes, mcode7_edges, '', mcode_colors[6], 460, 1960, 2.8, 3)
module(mcode8_nodes, mcode8_edges, '', mcode_colors[7], 900, 1960, 2.344, 3)

for i, (name, color) in enumerate(zip(mcode_names, mcode_colors)):
    y = 2288 + i * 24
    pix.add_patch(Rectangle((1282, y - 8.5), 17, 17, facecolor=color, edgecolor='none', zorder=3))
    pix.text(1303, y, name, fontsize=14.8, family=SANS, ha='left', va='center', color='#222222')

pix.plot([807, 1002], [2278, 2278], color='#E4E4E4', lw=0.8, zorder=0.5)
pix.plot([807, 1002], [2429, 2429], color='#E4E4E4', lw=0.8, zorder=0.5)
pix.plot([7, 7], [2403, 2477], color='#BDBDBD', lw=0.8, zorder=0.5)

fig.savefig('out.png', dpi=DPI)
